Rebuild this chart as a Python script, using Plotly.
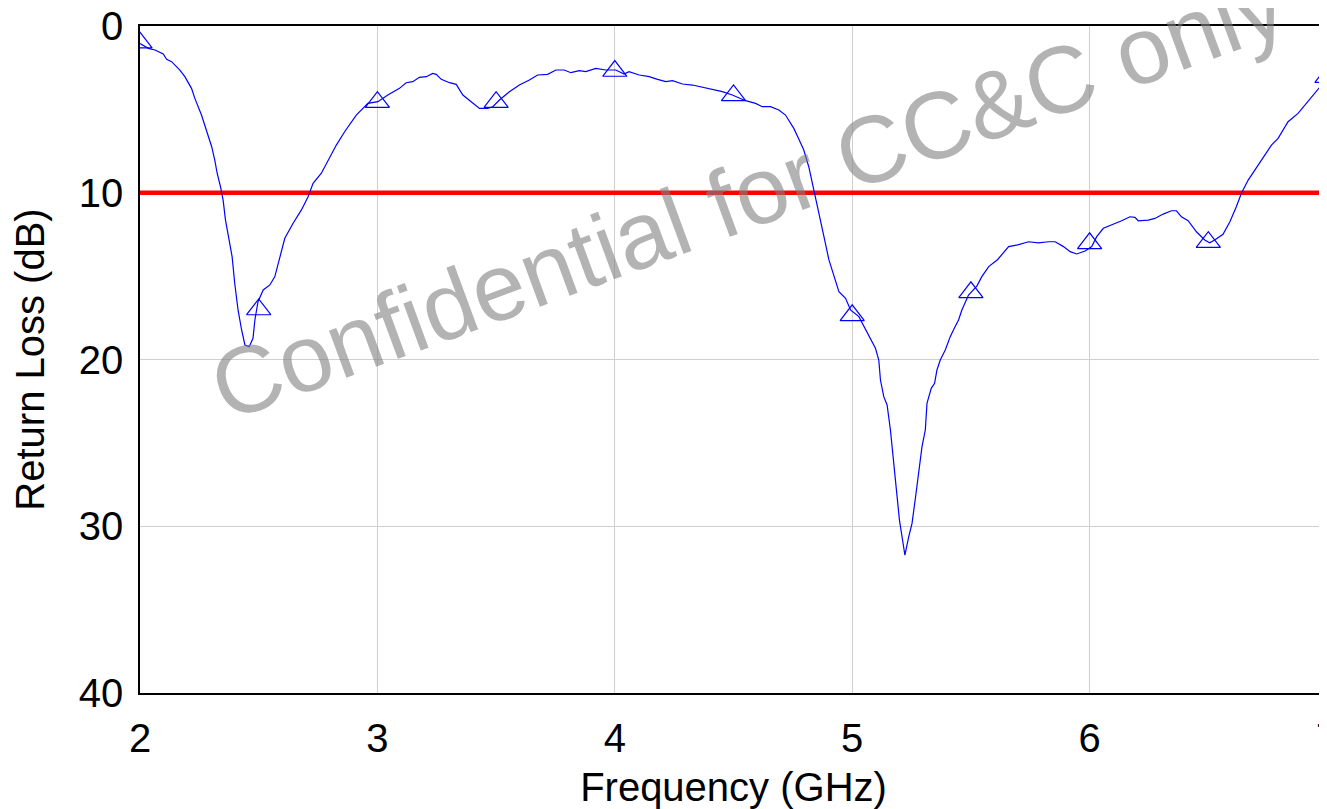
import plotly.graph_objects as go

# Return-loss curve (GHz, dB)
freq = [2.000, 2.035, 2.063, 2.098, 2.112, 2.133, 2.168, 2.189, 2.217, 2.231,
        2.259, 2.280, 2.302, 2.315, 2.325, 2.339, 2.350, 2.360, 2.374, 2.388,
        2.399, 2.413, 2.428, 2.442, 2.460, 2.476, 2.484, 2.497, 2.519, 2.547,
        2.568, 2.589, 2.610, 2.645, 2.680, 2.708, 2.729, 2.764, 2.799, 2.827,
        2.862, 2.911, 2.960, 3.002, 3.044, 3.093, 3.121, 3.149, 3.177, 3.206,
        3.233, 3.248, 3.269, 3.304, 3.332, 3.360, 3.395, 3.430, 3.465, 3.486,
        3.514, 3.556, 3.598, 3.640, 3.675, 3.717, 3.752, 3.787, 3.815, 3.850,
        3.878, 3.920, 3.962, 4.004, 4.039, 4.060, 4.103, 4.145, 4.180, 4.215,
        4.243, 4.285, 4.327, 4.369, 4.411, 4.453, 4.495, 4.551, 4.593, 4.621,
        4.656, 4.691, 4.719, 4.754, 4.776, 4.796, 4.817, 4.839, 4.860, 4.881,
        4.902, 4.923, 4.944, 4.972, 4.993, 5.028, 5.063, 5.098, 5.112, 5.119,
        5.133, 5.147, 5.161, 5.175, 5.189, 5.199, 5.210, 5.222, 5.238, 5.252,
        5.267, 5.280, 5.294, 5.308, 5.315, 5.333, 5.347, 5.357, 5.371, 5.392,
        5.413, 5.430, 5.448, 5.462, 5.476, 5.490, 5.525, 5.546, 5.575, 5.613,
        5.659, 5.697, 5.743, 5.785, 5.827, 5.855, 5.890, 5.918, 5.946, 5.981,
        6.009, 6.030, 6.058, 6.093, 6.135, 6.170, 6.191, 6.205, 6.247, 6.275,
        6.310, 6.345, 6.366, 6.387, 6.415, 6.450, 6.485, 6.506, 6.527, 6.562,
        6.591, 6.618, 6.639, 6.668, 6.696, 6.731, 6.766, 6.794, 6.836, 6.878,
        6.913, 6.948, 6.983, 7.000]
return_loss = [1.05, 1.34, 1.44, 1.68, 2.00, 2.14, 2.64, 3.04, 3.74, 4.34,
               5.34, 6.34, 7.24, 8.04, 8.83, 9.63, 10.43, 11.63, 12.63, 13.83,
               15.43, 17.03, 18.23, 19.13, 19.23, 18.73, 17.63, 16.53, 15.83, 15.53,
               15.03, 13.83, 12.73, 11.83, 11.03, 10.24, 9.43, 8.83, 7.84, 7.14,
               6.34, 5.34, 4.64, 4.54, 4.14, 3.74, 3.40, 3.34, 3.08, 3.04,
               2.84, 2.90, 3.20, 3.40, 3.50, 4.14, 4.54, 4.94, 4.94, 4.84,
               4.44, 3.94, 3.54, 3.24, 2.94, 2.90, 2.64, 2.64, 2.80, 2.68,
               2.74, 2.54, 2.64, 2.64, 2.88, 2.74, 2.94, 3.04, 3.20, 3.34,
               3.28, 3.48, 3.54, 3.68, 3.80, 3.94, 4.14, 4.48, 4.64, 4.84,
               4.84, 5.04, 5.34, 6.14, 6.80, 7.44, 8.44, 9.83, 11.23, 12.63,
               14.03, 15.03, 15.93, 16.33, 17.03, 17.43, 18.43, 19.33, 20.03, 21.23,
               22.23, 22.73, 24.23, 26.23, 28.23, 29.63, 30.63, 31.73, 30.63, 29.83,
               28.23, 26.63, 25.23, 24.23, 22.63, 21.73, 21.43, 20.63, 20.03, 19.43,
               18.63, 18.13, 17.63, 17.03, 16.63, 16.13, 15.60, 15.03, 14.43, 14.00,
               13.23, 13.13, 12.94, 13.00, 12.94, 12.94, 13.23, 13.53, 13.67, 13.49,
               13.23, 12.63, 12.13, 11.93, 11.68, 11.44, 11.48, 11.68, 11.64, 11.54,
               11.28, 11.08, 11.08, 11.44, 11.68, 12.34, 12.83, 13.00, 12.83, 12.49,
               11.74, 10.84, 10.04, 9.24, 8.64, 7.84, 7.14, 6.74, 5.74, 5.24,
               4.64, 4.04, 3.44, 3.00]

# Triangle markers every 0.5 GHz
marker_freq = [2.0, 2.5, 3.0, 3.5, 4.0, 4.5, 5.0, 5.5, 6.0, 6.5, 7.0]
marker_rl = [1.0, 17.0, 4.57, 4.57, 2.70, 4.16, 17.35, 15.97, 13.03, 12.96, 3.06]

# -10 dB reference line
limit_freq = [2.0, 7.0]
limit_rl = [10.0, 10.0]

x_ticks = [2, 3, 4, 5, 6, 7]
y_ticks = [0, 10, 20, 30, 40]
x_range = [2, 7]
y_range = [40, 0]

watermark = "Confidential for CC&C only"

FONT = "Liberation Sans, Arial, sans-serif"

fig = go.Figure()
fig.add_trace(go.Scatter(x=limit_freq, y=limit_rl, mode="lines",
                         line=dict(color="#ff0000", width=4.5),
                         hoverinfo="skip", showlegend=False))
fig.add_trace(go.Scatter(x=freq, y=return_loss, mode="lines",
                         line=dict(color="#0000ff", width=1.2),
                         showlegend=False))
fig.add_trace(go.Scatter(x=marker_freq, y=marker_rl, mode="markers",
                         marker=dict(symbol="triangle-up-open", size=21,
                                     color="#0000ff", line=dict(width=1.2, color="#0000ff")),
                         cliponaxis=True, showlegend=False))

fig.add_annotation(text=watermark, xref="paper", yref="paper",
                   x=0.512, y=0.747, xanchor="center", yanchor="middle",
                   showarrow=False, textangle=-20.2,
                   font=dict(family=FONT, size=95, color="rgba(128,128,128,0.6)"))

# the page adds an 8 px body margin, so the figure is 8 px smaller each way
fig.update_layout(
    width=1319, height=801,
    margin=dict(l=132, r=0, t=18, b=116, autoexpand=False),
    paper_bgcolor="white", plot_bgcolor="white",
    font=dict(family=FONT, size=40, color="black"),
    showlegend=False,
)
fig.update_xaxes(range=x_range, tickvals=x_ticks, ticktext=[str(v) for v in x_ticks],
                 automargin=False,
                 showgrid=True, gridcolor="#cfcfcf", gridwidth=1,
                 showline=True, linecolor="black", linewidth=1.5, mirror=True,
                 zeroline=False, ticks="", ticklabelstandoff=9,
                 ticklabeloverflow="allow",
                 tickfont=dict(size=40, color="black"),
                 title=dict(text="Frequency (GHz)", font=dict(size=40, color="black"), standoff=16))
fig.update_yaxes(range=y_range, tickvals=y_ticks, ticktext=[str(v) for v in y_ticks],
                 automargin=False,
                 showgrid=True, gridcolor="#cfcfcf", gridwidth=1,
                 showline=True, linecolor="black", linewidth=1.5,
                 zeroline=False, ticks="", ticklabelstandoff=7,
                 ticklabeloverflow="allow",
                 tickfont=dict(size=40, color="black"),
                 title=dict(text="Return Loss (dB)", font=dict(size=40, color="black"), standoff=24))

fig.write_html("out.html")
